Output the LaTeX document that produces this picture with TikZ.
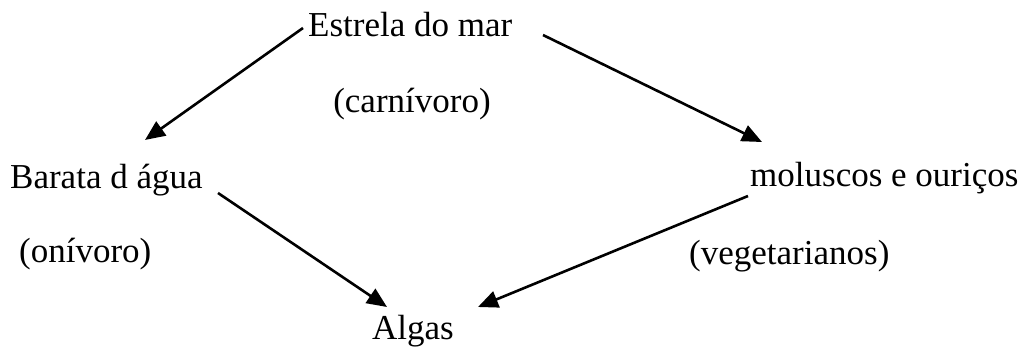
\documentclass[tikz,border=0pt]{standalone}
\usepackage{fontspec}
\setmainfont{Liberation Serif}
\usetikzlibrary{arrows.meta}
\begin{document}
\begin{tikzpicture}[x=1pt,y=-1pt,
  lbl/.style={inner sep=0pt,font=\fontsize{35}{40}\selectfont},
  arr/.style={line width=2.6pt,-{Triangle[length=20pt,width=17pt]}}]
\useasboundingbox (0,0) rectangle (1023,347);
\node[lbl,anchor=base west] (estrela) at (308,37) {Estrela do mar};
\node[lbl,anchor=base] (carn) at (412,113) {(carnívoro)};
\node[lbl,anchor=base west] (barata) at (10,189) {Barata d água};
\node[lbl,anchor=base west] (oni) at (19,263) {(onívoro)};
\node[lbl,anchor=base west] (mol) at (750,187) {moluscos e ouriços};
\node[lbl,anchor=base west] (veg) at (689,265) {(vegetarianos)};
\node[lbl,anchor=base west] (algas) at (372,340) {Algas};
\coordinate (e1) at (303,28);
\coordinate (e2) at (543,35);
\coordinate (b1) at (145,140);
\coordinate (m1) at (762,142);
\coordinate (b2) at (218,193);
\coordinate (m2) at (748,196);
\coordinate (a1) at (387,307);
\coordinate (a2) at (478,307);
\draw[arr] (e1) -- (b1);
\draw[arr] (e2) -- (m1);
\draw[arr] (b2) -- (a1);
\draw[arr] (m2) -- (a2);
\end{tikzpicture}
\end{document}
